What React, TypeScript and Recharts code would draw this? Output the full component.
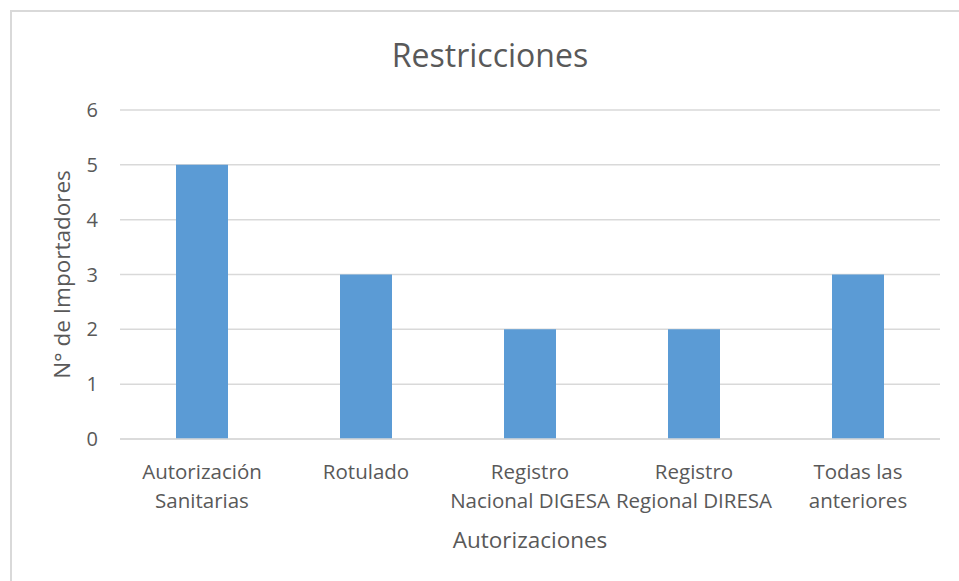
import { BarChart, Bar, XAxis, YAxis, CartesianGrid, Label } from "recharts";

const categories = [
  "Autorización\nSanitarias",
  "Rotulado",
  "Registro\nNacional DIGESA",
  "Registro\nRegional DIRESA",
  "Todas las\nanteriores",
];
const importadores = [5, 3, 2, 2, 3];
const yTicks = [0, 1, 2, 3, 4, 5, 6];

const data = categories.map((name, i) => ({ name, value: importadores[i] }));

const FONT = "'Open Sans', sans-serif";
const TEXT = "#595959";

// etiquetas del eje X en varias líneas
function CategoryTick(props: any) {
  const { x, y, payload } = props;
  const lines = String(payload.value).split("\n");
  return (
    <text x={x} y={y} textAnchor="middle" fill={TEXT} fontSize={20.5} fontFamily={FONT}>
      {lines.map((l, i) => (
        <tspan key={i} x={x} dy={i === 0 ? 32 : 29}>
          {l}
        </tspan>
      ))}
    </text>
  );
}

export default function App() {
  return (
    <div
      style={{
        position: "absolute",
        left: 0,
        top: 0,
        width: 959,
        height: 581,
        overflow: "hidden",
        background: "#fff",
      }}
    >
      <div
        style={{
          position: "absolute",
          left: 10,
          top: 10,
          width: 1200,
          height: 1200,
          border: "2px solid #d9d9d9",
        }}
      />
      <div
        style={{
          position: "absolute",
          left: 0,
          width: 980,
          top: 33,
          textAlign: "center",
          fontFamily: FONT,
          fontSize: 32,
          color: TEXT,
        }}
      >
        Restricciones
      </div>
      <div style={{ position: "absolute", left: 0, top: 0 }}>
        <BarChart
          width={959}
          height={581}
          data={data}
          margin={{ top: 110, right: 19, left: 40, bottom: 22 }}
        >
          <CartesianGrid vertical={false} stroke="#d9d9d9" strokeWidth={1.5} />
          <YAxis
            width={80}
            domain={[0, 6]}
            ticks={yTicks}
            axisLine={false}
            tickLine={false}
            tickSize={0}
            tickMargin={22}
            tick={{ fill: TEXT, fontSize: 20, fontFamily: FONT }}
          >
            <Label
              value="N° de Importadores"
              angle={-90}
              position="insideLeft"
              offset={0}
              dx={22}
              style={{ fill: TEXT, fontSize: 22.5, fontFamily: FONT, textAnchor: "middle" }}
            />
          </YAxis>
          <XAxis
            dataKey="name"
            height={120}
            interval={0}
            axisLine={{ stroke: "#d9d9d9", strokeWidth: 1.5 }}
            tickLine={false}
            tick={<CategoryTick />}
          >
            <Label
              value="Autorizaciones"
              position="insideBottom"
              offset={11}
              style={{ fill: TEXT, fontSize: 22.5, fontFamily: FONT }}
            />
          </XAxis>
          <Bar dataKey="value" fill="#5b9bd5" barSize={52} isAnimationActive={false} />
        </BarChart>
      </div>
    </div>
  );
}
